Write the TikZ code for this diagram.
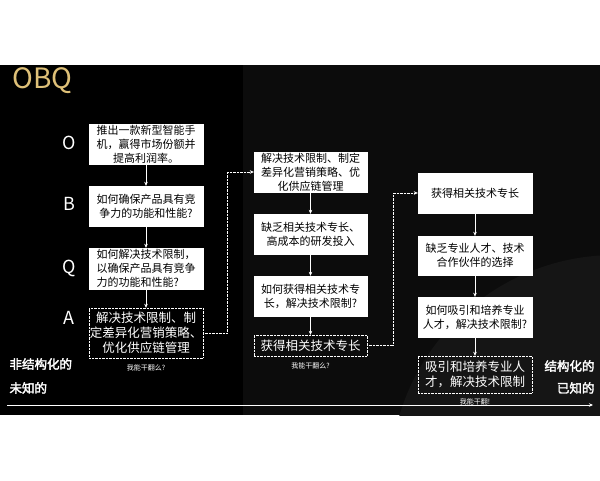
\documentclass[tikz,border=0pt]{standalone}
\usepackage{fontspec}
\setmainfont{Noto Sans CJK SC}
\newfontfamily\cjkbold[FakeBold=2.5]{Noto Sans CJK SC}
\usetikzlibrary{arrows.meta}
\definecolor{obqgold}{RGB}{222,192,120}
\definecolor{panelgray}{RGB}{12,12,12}
\definecolor{roundgray}{RGB}{21,21,21}
\begin{document}
\begin{tikzpicture}[x=1pt,y=-1pt,
  qbox/.style={draw=white,fill=white,text=black,align=center,inner sep=0pt,
    font=\fontsize{11}{14}\selectfont},
  abox/.style={draw=white,densely dotted,text=white,align=center,inner sep=0pt,
    font=\fontsize{12.5}{15}\selectfont},
  letter/.style={text=white,font=\fontsize{18}{18}\selectfont},
  side/.style={text=white,font=\cjkbold\fontsize{12.5}{14}\selectfont},
  tiny/.style={text=white,font=\fontsize{7}{8}\selectfont},
  arr/.style={white,-{Stealth[length=4pt,width=3.5pt]}},
  dotcon/.style={white,densely dotted,-{Stealth[length=4pt,width=3.5pt]}}]
\useasboundingbox (0,0) rectangle (600,480);

% background panel
\fill[black] (0,65) rectangle (600,415);
\begin{scope}
\clip (0,65) rectangle (600,415);
\fill[panelgray] (243,65) rectangle (600,415);
\fill[roundgray] (615,480) circle (225);
\end{scope}

\node[anchor=west,text=obqgold,font=\fontsize{28}{28}\selectfont] (obq) at (9,81) {OBQ};

% first column
\node[letter] (lo) at (69,143) {O};
\node[letter] (lb) at (69,204) {B};
\node[letter] (lq) at (69,268) {Q};
\node[letter] (la) at (69,318) {A};

\node[qbox,minimum width=114pt,minimum height=40pt] (o1) at (146,144) {推出一款新型智能手\\机，赢得市场份额并\\提高利润率。};
\node[qbox,minimum width=114pt,minimum height=40pt] (b1) at (146,206) {如何确保产品具有竞\\争力的功能和性能?};
\node[qbox,minimum width=114pt,minimum height=41pt,align=left] (q1) at (146,268.5) {如何解决技术限制，\\以确保产品具有竞争\\力的功能和性能?};
\node[abox,minimum width=114pt,minimum height=50pt] (a1) at (146,333) {解决技术限制、制\\定差异化营销策略、\\优化供应链管理};
\node[tiny,below=3pt] (t1) at (a1.south) {我能干翻么?};

\draw[arr] (o1) -- (b1);
\draw[arr] (b1) -- (q1);
\draw[arr] (q1) -- (a1);

% second column
\node[qbox,minimum width=113pt,minimum height=40pt] (c2a) at (310.5,172) {解决技术限制、制定\\差异化营销策略、优\\化供应链管理};
\node[qbox,minimum width=113pt,minimum height=40pt] (c2b) at (310.5,234) {缺乏相关技术专长、\\高成本的研发投入};
\node[qbox,minimum width=113pt,minimum height=40pt] (c2c) at (310.5,296) {如何获得相关技术专\\长，解决技术限制?};
\node[abox,minimum width=113pt,minimum height=21pt] (c2d) at (310.5,345.5) {获得相关技术专长};
\node[tiny,below=3pt] (t2) at (c2d.south) {我能干翻么?};

\draw[arr] (c2a) -- (c2b);
\draw[arr] (c2b) -- (c2c);
\draw[arr] (c2c) -- (c2d);
\draw[dotcon] (a1.east) -- ++(24,0) |- (c2a.west);

% third column
\node[qbox,minimum width=114pt,minimum height=40pt] (c3a) at (475,193) {获得相关技术专长};
\node[qbox,minimum width=114pt,minimum height=39pt] (c3b) at (475,255.5) {缺乏专业人才、技术\\合作伙伴的选择};
\node[qbox,minimum width=114pt,minimum height=40pt] (c3c) at (475,317) {如何吸引和培养专业\\人才，解决技术限制?};
\node[abox,minimum width=114pt,minimum height=37pt] (c3d) at (475,374.5) {吸引和培养专业人\\才，解决技术限制};
\node[tiny,below=2pt] (t3) at (c3d.south) {我能干翻!};

\draw[arr] (c3a) -- (c3b);
\draw[arr] (c3b) -- (c3c);
\draw[arr] (c3c) -- (c3d);
\draw[dotcon] (c2d.east) -- ++(26,0) |- (c3a.west);

% side labels and axis
\node[side,anchor=west] (unstr) at (6,364) {非结构化的};
\node[side,anchor=west] (unknown) at (6,388) {未知的};
\node[side,anchor=east] (str) at (598,366) {结构化的};
\node[side,anchor=east] (known) at (598,388) {已知的};

\coordinate (axl) at (7,405);
\coordinate (axr) at (593,405);
\draw[arr,line width=0.8pt] (axl) -- (axr);
\end{tikzpicture}
\end{document}
